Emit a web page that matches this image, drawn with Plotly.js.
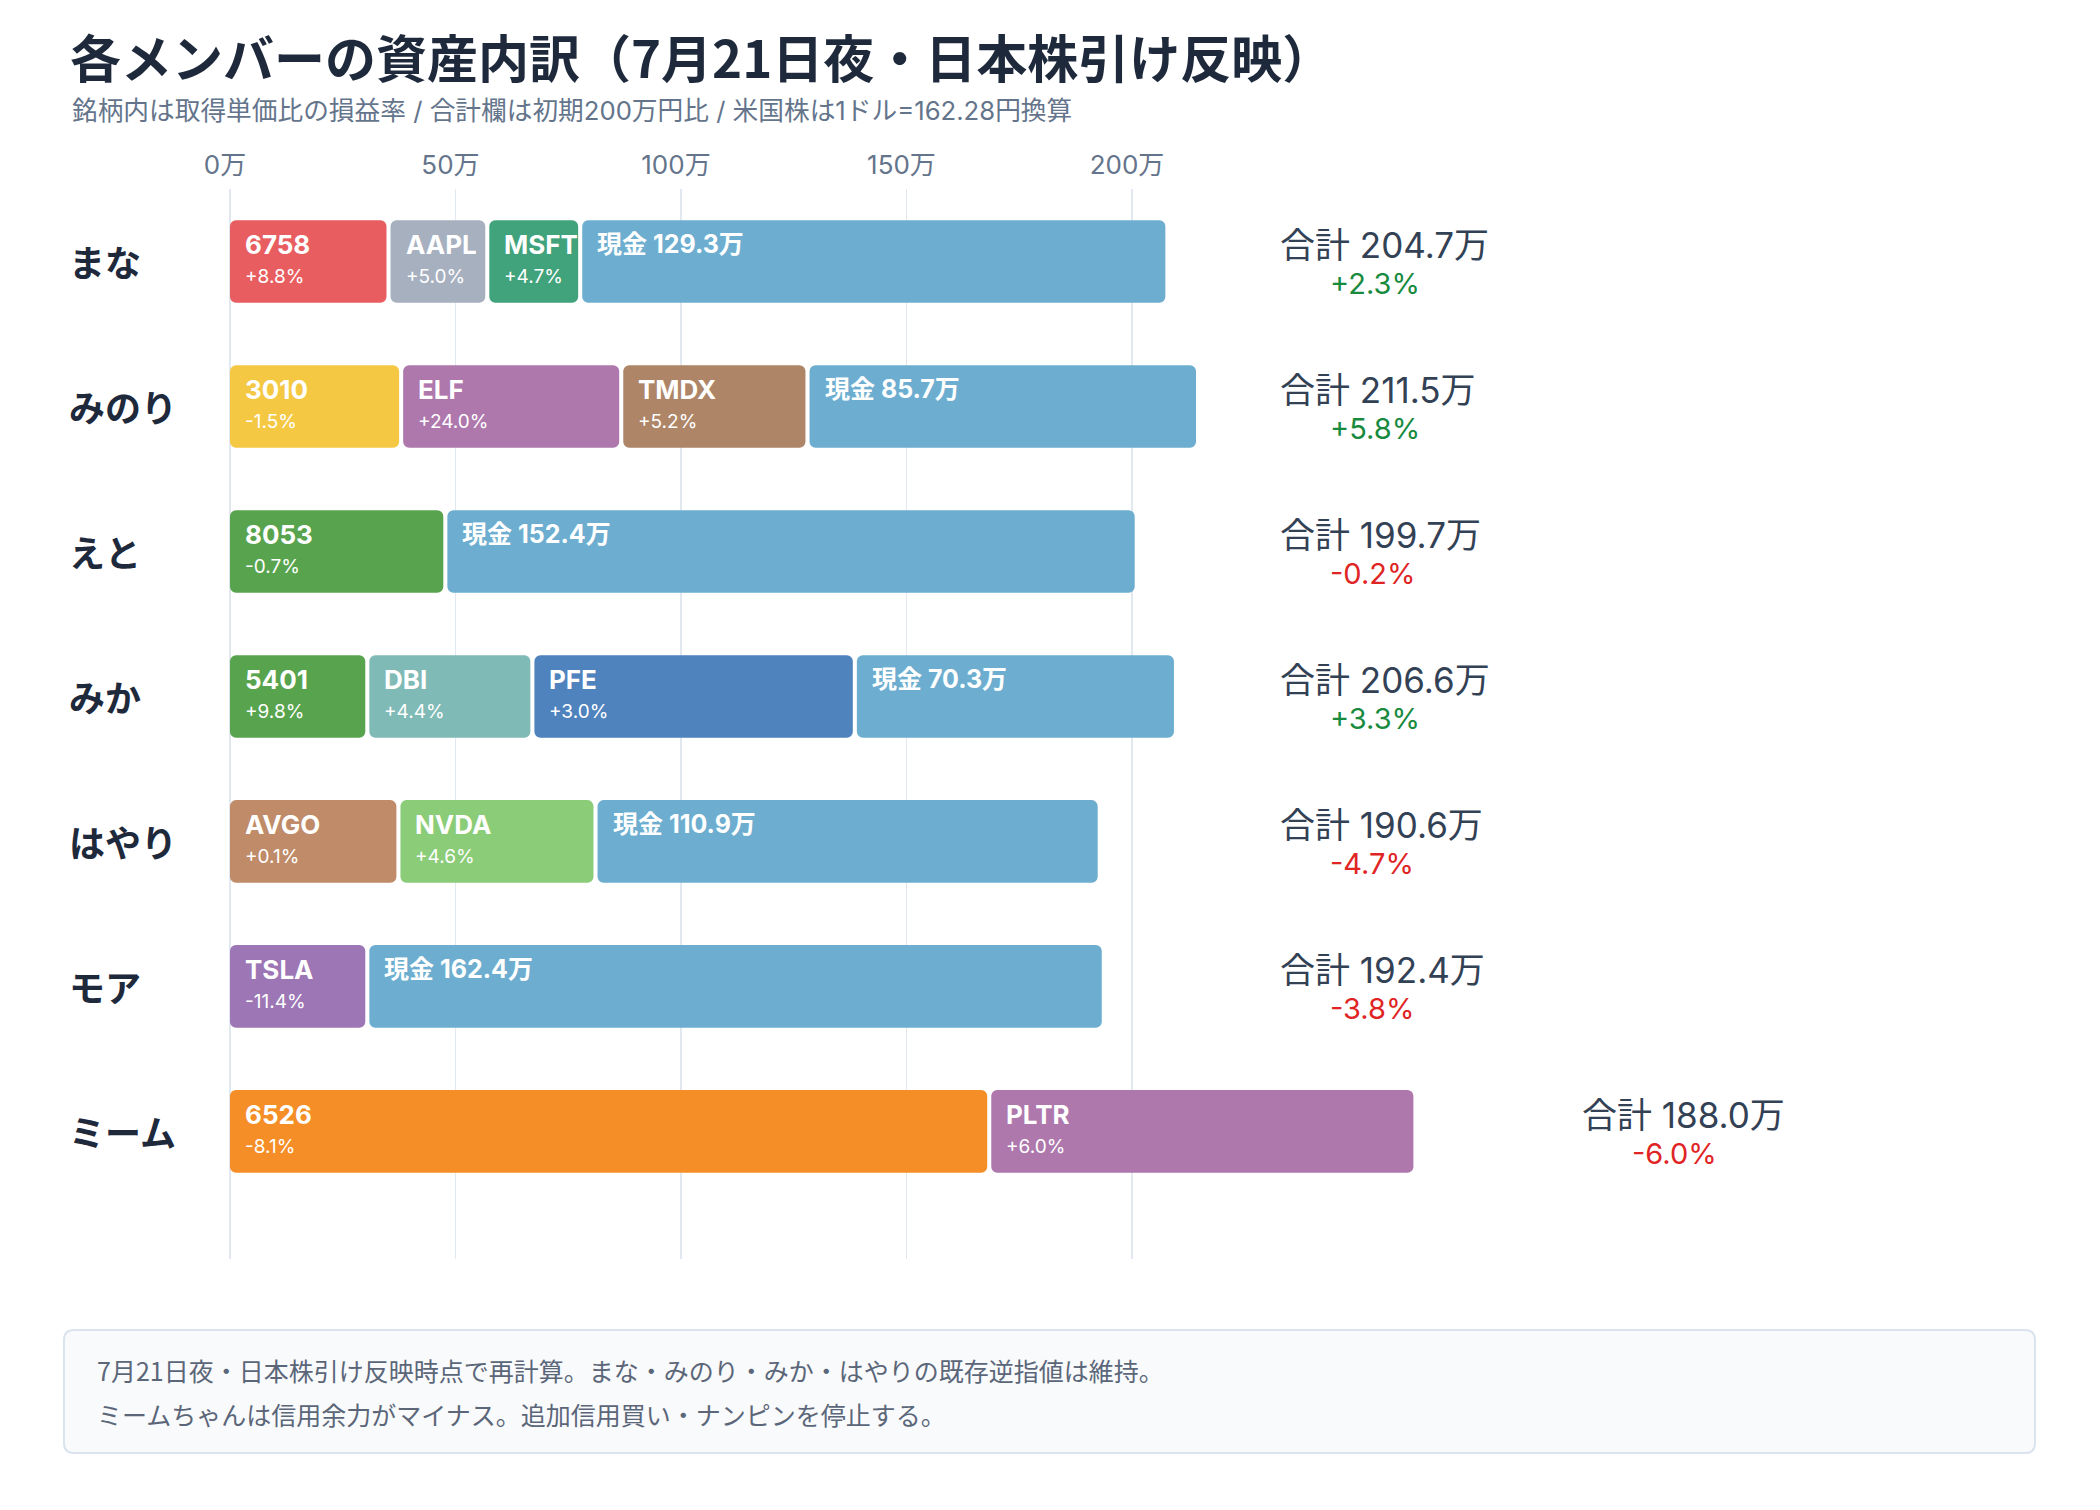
<!DOCTYPE html>
<html>
<head>
<meta charset="utf-8">
<script src="https://cdn.plot.ly/plotly-3.0.1.min.js"></script>
<style>
  html, body { margin: 0; padding: 0; background: #ffffff; }
  #chart { width: 2100px; height: 1510px; }
</style>
</head>
<body>
<div id="chart"></div>
<script>
// ---------------- DATA ----------------
const members = ['まな', 'みのり', 'えと', 'みか', 'はやり', 'モア', 'ミーム'];
const totals = [204.7, 211.5, 199.7, 206.6, 190.6, 192.4, 188.0];
const totalPct = [2.3, 5.8, -0.2, 3.3, -4.7, -3.8, -6.0];
const cash = [129.3, 85.7, 152.4, 70.3, 110.9, 162.4, null];

const manaTickers = ['6758', 'AAPL', 'MSFT'];
const manaValues = [34.7, 21.0, 19.7];
const manaPct = [8.8, 5.0, 4.7];

const minoriTickers = ['3010', 'ELF', 'TMDX'];
const minoriValues = [37.5, 47.9, 40.4];
const minoriPct = [-1.5, 24.0, 5.2];

const etoTickers = ['8053'];
const etoValues = [47.3];
const etoPct = [-0.7];

const mikaTickers = ['5401', 'DBI', 'PFE'];
const mikaValues = [30.0, 35.7, 70.6];
const mikaPct = [9.8, 4.4, 3.0];

const hayariTickers = ['AVGO', 'NVDA'];
const hayariValues = [36.9, 42.8];
const hayariPct = [0.1, 4.6];

const moaTickers = ['TSLA'];
const moaValues = [30.0];
const moaPct = [-11.4];

const mimuTickers = ['6526', 'PLTR'];
const mimuValues = [167.9, 93.6];
const mimuPct = [-8.1, 6.0];

const xTickVals = [0, 50, 100, 150, 200];
const xTickText = ['0万', '50万', '100万', '150万', '200万'];

const title = '各メンバーの資産内訳（7月21日夜・日本株引け反映）';
const subtitle = '銘柄内は取得単価比の損益率 / 合計欄は初期200万円比 / 米国株は1ドル=162.28円換算';
const noteLines = [
  '7月21日夜・日本株引け反映時点で再計算。まな・みのり・みか・はやりの既存逆指値は維持。',
  'ミームちゃんは信用余力がマイナス。追加信用買い・ナンピンを停止する。'
];

// ---------------- STYLES ----------------
const tickerColors = {
  '6758': '#e85d60', 'AAPL': '#a7b0bf', 'MSFT': '#41a37b',
  '3010': '#f5c843', 'ELF': '#ae78ad', 'TMDX': '#ae8567',
  '8053': '#58a44e', '5401': '#58a44e', 'DBI': '#7fbab6', 'PFE': '#4f83bd',
  'AVGO': '#bf8b68', 'NVDA': '#8bcc78', 'TSLA': '#9d76b5',
  '6526': '#f58e26', 'PLTR': '#ae78ad'
};
const cashColor = '#6daed0';
const GAP = 0.9;            // visual gap between segments (in 万)
const LABEL_COL = 233.3;    // totals column
const OVERFLOW_PAD = 37.8;  // totals offset when the bar overruns the column
const latin = 'Inter, "Noto Sans CJK JP", sans-serif';
const cjk = '"Noto Sans CJK JP", sans-serif';

const holdings = [
  [manaTickers, manaValues, manaPct],
  [minoriTickers, minoriValues, minoriPct],
  [etoTickers, etoValues, etoPct],
  [mikaTickers, mikaValues, mikaPct],
  [hayariTickers, hayariValues, hayariPct],
  [moaTickers, moaValues, moaPct],
  [mimuTickers, mimuValues, mimuPct]
];

const fmtPct = v => (v >= 0 ? '+' : '') + v.toFixed(1) + '%';

// pixel helpers for layout decorations (plot area: x 228..2032, y 189..1259)
const PL = 228, PW = 1804, PT = 189, PB = 1259, PH = PB - PT;
const px2x = p => (p - PL) / PW;
const py2y = p => (PB - p) / PH;

const traces = [];
const annotations = [];

members.forEach((m, i) => {
  const [tk, vals, pcts] = holdings[i];
  let base = 0;
  const segs = tk.map((t, j) => ({ label: t, value: vals[j], pct: pcts[j], color: tickerColors[t], cash: false }));
  if (cash[i] !== null) segs.push({ label: '現金', value: cash[i], color: cashColor, cash: true });
  segs.forEach((s, j) => {
    traces.push({
      type: 'bar', orientation: 'h',
      y: [m], x: [s.value], base: [base],
      width: 0.57,
      marker: { color: s.color, cornerradius: 6, line: { width: 0 } },
      hovertemplate: m + ' ' + s.label + ': %{x:.1f}万<extra></extra>',
      showlegend: false
    });
    if (s.cash) {
      annotations.push({
        x: base, y: m, xref: 'x', yref: 'y', xanchor: 'left', yanchor: 'middle',
        xshift: 13, yshift: 17, showarrow: false,
        text: '<b>現金 ' + s.value.toFixed(1) + '万</b>',
        font: { family: latin, size: 25, color: '#ffffff' }
      });
    } else {
      annotations.push({
        x: base, y: m, xref: 'x', yref: 'y', xanchor: 'left', yanchor: 'middle',
        xshift: 13, yshift: 17, showarrow: false,
        text: '<b>' + s.label + '</b>',
        font: { family: latin, size: 26, color: '#ffffff' }
      });
      annotations.push({
        x: base, y: m, xref: 'x', yref: 'y', xanchor: 'left', yanchor: 'middle',
        xshift: 13, yshift: -15, showarrow: false,
        text: fmtPct(s.pct),
        font: { family: latin, size: 19, color: '#ffffff' }
      });
    }
    base += s.value + GAP;
  });
  const barEnd = base - GAP;
  const lx = barEnd > 230 ? barEnd + OVERFLOW_PAD : LABEL_COL;
  annotations.push({
    x: lx, y: m, xref: 'x', yref: 'y', xanchor: 'left', yanchor: 'middle',
    xshift: -4, yshift: 16, showarrow: false,
    text: '合計 ' + totals[i].toFixed(1) + '万',
    font: { family: latin, size: 35, color: '#334155' }
  });
  annotations.push({
    x: lx, y: m, xref: 'x', yref: 'y', xanchor: 'left', yanchor: 'middle',
    xshift: 46, yshift: -22, showarrow: false,
    text: fmtPct(totalPct[i]),
    font: { family: latin, size: 29, color: totalPct[i] >= 0 ? '#178a3e' : '#e02424' }
  });
  // row label
  annotations.push({
    x: px2x(67), y: m, xref: 'paper', yref: 'y', xanchor: 'left', yanchor: 'middle',
    showarrow: false, text: '<b>' + m + '</b>',
    font: { family: cjk, size: 36, color: '#1e293b' }
  });
});

// subtitle
annotations.push({
  x: px2x(70), y: py2y(110), xref: 'paper', yref: 'paper', xanchor: 'left', yanchor: 'middle',
  showarrow: false, text: subtitle,
  font: { family: latin, size: 25.7, color: '#64748b' }
});
// notes
noteLines.forEach((t, k) => {
  annotations.push({
    x: px2x(95), y: py2y(1370 + k * 44), xref: 'paper', yref: 'paper', xanchor: 'left', yanchor: 'middle',
    showarrow: false, text: t,
    font: { family: cjk, size: 25, color: '#5b6679' }
  });
});

// footer box (rounded rectangle)
function roundRect(x0p, y0p, x1p, y1p, r) {
  const x0 = px2x(x0p), x1 = px2x(x1p), yT = py2y(y0p), yB = py2y(y1p);
  const rx = r / PW, ry = r / PH;
  return `M ${x0 + rx},${yT} L ${x1 - rx},${yT} Q ${x1},${yT} ${x1},${yT - ry} ` +
    `L ${x1},${yB + ry} Q ${x1},${yB} ${x1 - rx},${yB} L ${x0 + rx},${yB} ` +
    `Q ${x0},${yB} ${x0},${yB + ry} L ${x0},${yT - ry} Q ${x0},${yT} ${x0 + rx},${yT} Z`;
}
const shapes = [{
  type: 'path', xref: 'paper', yref: 'paper', layer: 'below',
  path: roundRect(64, 1330, 2035, 1453, 10),
  fillcolor: '#f8fafc', line: { color: '#dbe4ee', width: 2 }
}];

const layout = {
  width: 2100, height: 1510,
  paper_bgcolor: '#ffffff', plot_bgcolor: '#ffffff',
  margin: { l: PL, r: 2100 - PL - PW, t: PT, b: 1510 - PB, pad: 0 },
  barmode: 'overlay',
  title: {
    text: '<b>' + title + '</b>',
    x: 70 / 2100, xref: 'container', xanchor: 'left',
    y: 1 - 60 / 1510, yref: 'container', yanchor: 'middle',
    font: { family: cjk, size: 51, color: '#1e293b' }
  },
  xaxis: {
    side: 'top', range: [-0.44, 399.56],
    tickvals: xTickVals, ticktext: xTickText,
    showgrid: true, gridcolor: '#e2e8f0', gridwidth: 1.5,
    zeroline: false, showline: false, ticks: '',
    ticklabelstandoff: 9, ticklabelshift: -5,
    tickfont: { family: latin, size: 26, color: '#64748b' },
    fixedrange: true
  },
  yaxis: {
    type: 'category', categoryorder: 'array', categoryarray: members,
    range: [6.88, -0.5],
    showticklabels: false, showgrid: false, zeroline: false, showline: false, ticks: '',
    fixedrange: true
  },
  annotations: annotations,
  shapes: shapes,
  showlegend: false
};

Plotly.newPlot('chart', traces, layout, { displayModeBar: false, staticPlot: true });
</script>
</body>
</html>
